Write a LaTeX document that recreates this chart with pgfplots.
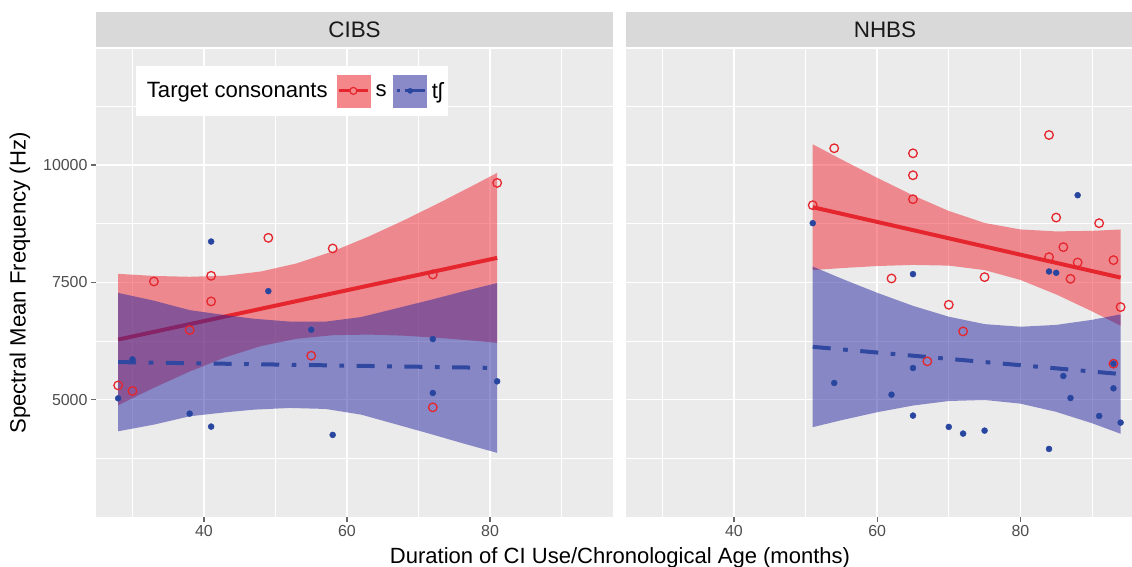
\documentclass[border=0pt]{standalone}
\usepackage{pgfplots}
\pgfplotsset{compat=1.18}
\usepackage{fontspec}
\setmainfont{Liberation Sans}
\definecolor{panelgray}{RGB}{235,235,235}
\definecolor{stripgray}{RGB}{217,217,217}
\definecolor{redfill}{RGB}{240,40,50}
\definecolor{redline}{RGB}{230,38,46}
\definecolor{bluefill}{RGB}{37,37,161}
\definecolor{blueline}{RGB}{48,72,160}
\definecolor{bluept}{RGB}{40,70,160}
\definecolor{tickgray}{RGB}{77,77,77}
\definecolor{pinkkey}{RGB}{244,135,138}
\definecolor{bluekey}{RGB}{138,138,200}

\pgfplotstableread{
x y
28 5304
30 5185
33 7517
38 6483
41 7638
41 7092
49 8447
55 5936
58 8220
72 7666
72 4836
81 9617
}\cibsS
\pgfplotstableread{
x y
28 5028
30 5858
38 4702
41 8368
41 4426
49 7312
55 6489
58 4249
72 6291
72 5142
81 5390
}\cibsT
\pgfplotstableread{
x y
51 9142
54 10355
62 7581
65 10248
65 9780
65 9270
67 5816
70 7021
72 6453
75 7610
84 10638
84 8036
85 8879
86 8249
87 7574
88 7922
91 8759
93 7972
93 5766
94 6972
}\nhbsS
\pgfplotstableread{
x y
51 8759
54 5355
62 5106
65 7674
65 5674
65 4660
70 4419
72 4277
75 4340
84 7730
84 3950
85 7702
86 5504
87 5035
88 9355
91 4652
93 5766
93 5241
94 4511
}\nhbsT

\pgfplotsset{
  gg/.style={
    scale only axis, height=468bp,
    ymin=2500, ymax=12470,
    axis background/.style={fill=panelgray},
    axis line style={draw=none},
    grid=both,
    major grid style={white, line width=1.4bp},
    minor grid style={white, line width=0.7bp},
    xtick={40,60,80}, minor xtick={30,50,70,90},
    ytick={5000,7500,10000}, minor ytick={3750,6250,8750,11250},
    scaled ticks=false,
    tick align=outside, tick pos=left,
    major tick length=5bp, minor tick length=0pt,
    tick style={color=tickgray!85, line width=1.2bp},
    ticklabel style={font=\fontsize{16}{16}\selectfont, text=tickgray},
    /pgf/number format/assume math mode=true,
    /pgf/number format/1000 sep={},
  },
  band/.style={draw=none, fill=#1, fill opacity=0.5, forget plot},
  sline/.style={redline, line width=4bp, forget plot},
  tline/.style={blueline, line width=4bp, dash pattern=on 18bp off 12.5bp on 4.7bp off 12.5bp, forget plot},
  spts/.style={only marks, mark=o, mark size=4.3bp, mark options={draw=redline, line width=1.3bp, fill=none}, forget plot},
  tpts/.style={only marks, mark=*, mark size=3bp, mark options={draw=bluept, fill=bluept}, forget plot},
}

\begin{document}
\begin{tikzpicture}
\begin{axis}[gg, name=L, at={(96bp,50bp)}, anchor=south west,
  width=517bp, xmin=24.9, xmax=97.2,
  ylabel={Spectral Mean Frequency (Hz)},
  ylabel style={font=\fontsize{22.2}{22.2}\selectfont, at={(axis description cs:-0.147,0.5)}, anchor=center},
  legend style={at={(0.0774,0.9637)}, anchor=north west, draw=none, fill=white,
    font=\fontsize{22.2}{22.2}\selectfont, legend columns=-1,
    inner xsep=5bp, inner ysep=8.5bp,
    nodes={inner xsep=0bp},
    /tikz/column 1/.style={column sep=5.7bp},
    /tikz/column 2/.style={column sep=9bp},
    /tikz/column 3/.style={column sep=5.7bp},
    /tikz/column 4/.style={column sep=6.6bp},
    /tikz/column 5/.style={column sep=5bp},
    /tikz/column 6/.style={column sep=0bp}},
]
\addplot[band=redfill] coordinates {(28,7680)(33,7635)(38,7617)(43,7641)(48,7731)(53,7904)(58,8158)(63,8472)(68,8824)(73,9200)(78,9592)(81,9831)
 (81,6209)(78,6252)(73,6314)(68,6362)(63,6386)(58,6372)(53,6298)(48,6143)(43,5903)(38,5599)(33,5253)(28,4880)} --cycle;
\addplot[sline] coordinates {(28,6280)(81,8020)};
\addplot[band=bluefill] coordinates {(28,7274)(33,7108)(38,6907)(43,6800)(47,6723)(52,6663)(57,6662)(62,6760)(67,6948)(72,7137)(76,7296)(81,7484)
 (81,3866)(76,4078)(72,4255)(67,4468)(62,4680)(57,4802)(52,4823)(47,4787)(43,4730)(38,4645)(33,4468)(28,4326)} --cycle;
\addplot[tline] coordinates {(28,5800)(81,5675)};
\addplot[spts] table[x=x,y=y] {\cibsS};
\addplot[tpts] table[x=x,y=y] {\cibsT};
\addlegendimage{empty legend}
\addlegendentry{Target consonants}
\addlegendimage{legend image code/.code={
  \fill[pinkkey] (0bp,-16bp) rectangle (33bp,16bp);
  \draw[redline, line width=3bp] (2bp,0bp) -- (31bp,0bp);
  \draw[redline, line width=1.2bp, fill=pinkkey] (16.5bp,0bp) circle (3.5bp);
}}
\addlegendentry{s}
\addlegendimage{legend image code/.code={
  \fill[bluekey] (0bp,-16bp) rectangle (33bp,16bp);
  \draw[blueline, line width=3bp, dash pattern=on 3bp off 5bp on 20bp off 5bp] (3bp,0bp) -- (31bp,0bp);
  \fill[bluept] (16.5bp,0bp) circle (2.6bp);
}}
\addlegendentry{tʃ}
\end{axis}

\begin{axis}[gg, name=R, at={(626bp,50bp)}, anchor=south west,
  width=506bp, xmin=24.92, xmax=95.59,
  yticklabels={}, ytick style={draw=none},
]
\addplot[band=redfill] coordinates {(51,10440)(55,10118)(60,9726)(65,9352)(70,9019)(75,8764)(80,8626)(85,8584)(90,8596)(94,8625)
 (94,6575)(90,6882)(85,7242)(80,7550)(75,7760)(70,7855)(65,7870)(60,7846)(55,7802)(51,7760)} --cycle;
\addplot[sline] coordinates {(51,9100)(94,7600)};
\addplot[band=bluefill] coordinates {(51,7836)(55,7580)(60,7276)(65,6998)(70,6767)(75,6609)(80,6553)(85,6592)(90,6700)(94,6817)
 (94,4273)(90,4498)(85,4740)(80,4915)(75,4993)(70,4971)(65,4874)(60,4732)(55,4562)(51,4414)} --cycle;
\addplot[tline] coordinates {(51,6125)(94,5545)};
\addplot[spts] table[x=x,y=y] {\nhbsS};
\addplot[tpts] table[x=x,y=y] {\nhbsT};
\end{axis}

\fill[stripgray] ([yshift=2bp]L.north west) rectangle ([yshift=37bp]L.north east);
\node[font=\fontsize{22.5}{22.5}\selectfont, text=black!90] at ([yshift=19.5bp]L.north) {CIBS};
\fill[stripgray] ([yshift=2bp]R.north west) rectangle ([yshift=37bp]R.north east);
\node[font=\fontsize{22.5}{22.5}\selectfont, text=black!90] at ([yshift=19.5bp]L.north -| 885bp,0) {NHBS};
\node[font=\fontsize{22.1}{22.1}\selectfont, anchor=base] at (620bp,4bp) {Duration of CI Use/Chronological Age (months)};
\pgfresetboundingbox
\path[use as bounding box] (0bp,0bp) rectangle (1132bp,567bp);
\end{tikzpicture}
\end{document}
